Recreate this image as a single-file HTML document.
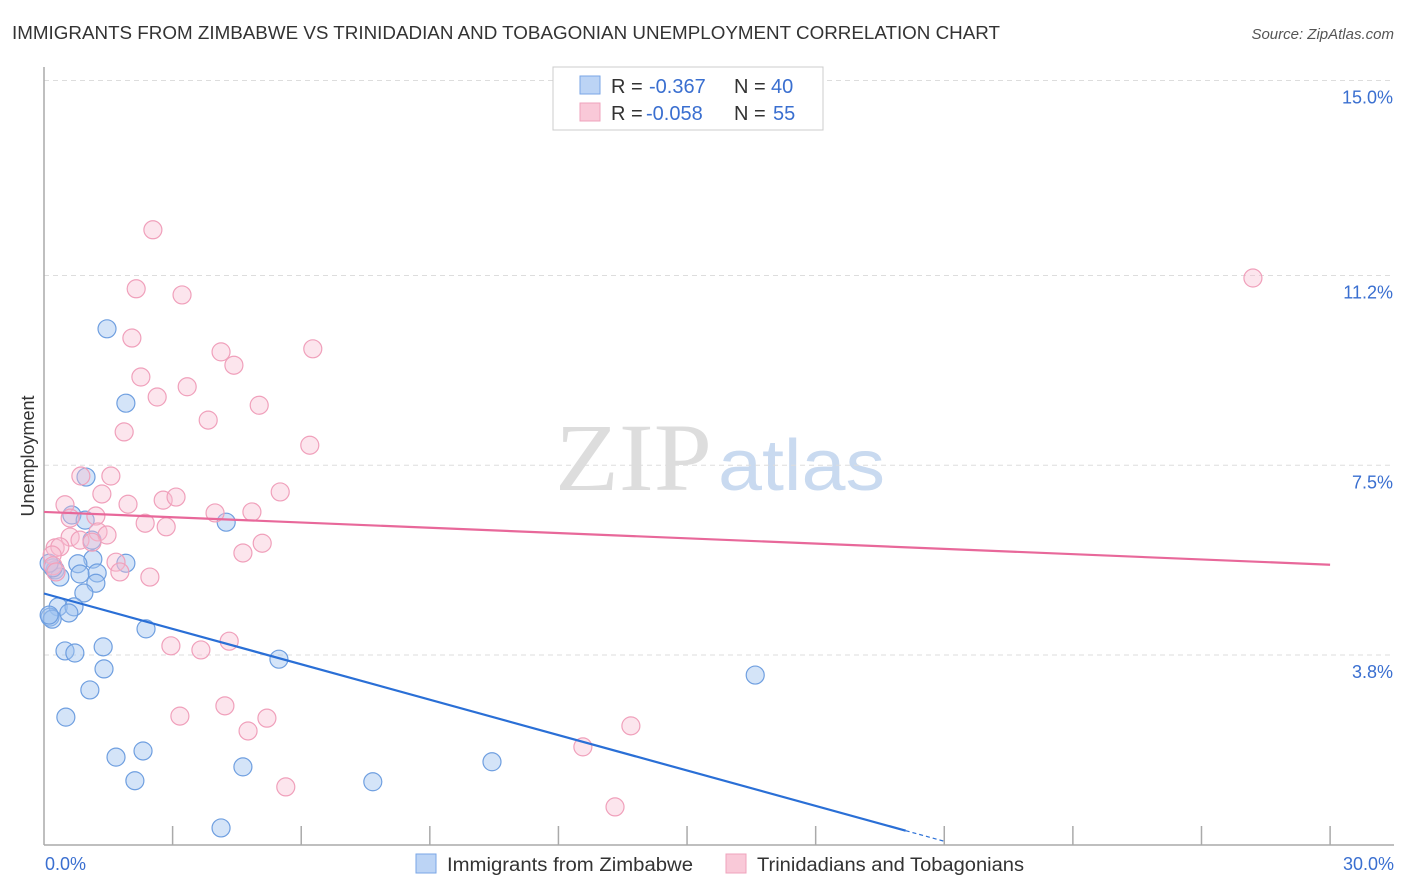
<!DOCTYPE html>
<html><head><meta charset="utf-8"><style>
body{margin:0;background:#fff;font-family:"Liberation Sans",sans-serif}
svg{display:block}
</style></head><body>
<svg id="chart" width="1406" height="892">
<text x="12" y="39" font-size="18" fill="#333" textLength="988" lengthAdjust="spacingAndGlyphs">IMMIGRANTS FROM ZIMBABWE VS TRINIDADIAN AND TOBAGONIAN UNEMPLOYMENT CORRELATION CHART</text>
<text x="1394" y="39" font-size="15" fill="#555" text-anchor="end" font-style="italic">Source: ZipAtlas.com</text>
<text x="555" y="490" font-size="96" fill="#ddd" textLength="157" lengthAdjust="spacingAndGlyphs" font-family="Liberation Serif,serif">ZIP</text>
<text x="718" y="490" font-size="72" fill="#c9daf0" textLength="167" lengthAdjust="spacingAndGlyphs">atlas</text>
<g id="grid"></g>
<g id="pts"></g>
<g id="lines"></g>
<text transform="translate(34,456) rotate(-90)" font-size="18" fill="#333" text-anchor="middle">Unemployment</text>
<text x="45" y="870" font-size="18" fill="#3a6fd0">0.0%</text>
<text x="1394" y="870" font-size="18" fill="#3a6fd0" text-anchor="end">30.0%</text>
<g>
<rect x="553" y="67" width="270" height="63" fill="#fff" stroke="#ccc"/>
<rect x="580" y="76" width="20" height="18" fill="#bcd4f5" stroke="#7aa6e6"/>
<rect x="580" y="103" width="20" height="18" fill="#f9c9d8" stroke="#efa3bc"/>
<text x="611" y="93" font-size="20" fill="#333">R =</text><text x="649" y="93" font-size="20" fill="#3a6fd0">-0.367</text>
<text x="734" y="93" font-size="20" fill="#333">N =</text><text x="771" y="93" font-size="20" fill="#3a6fd0">40</text>
<text x="611" y="120" font-size="20" fill="#333">R =</text><text x="646" y="120" font-size="20" fill="#3a6fd0">-0.058</text>
<text x="734" y="120" font-size="20" fill="#333">N =</text><text x="773" y="120" font-size="20" fill="#3a6fd0">55</text>
</g>
<g>
<rect x="416" y="854" width="20" height="19" fill="#bcd4f5" stroke="#7aa6e6"/>
<text x="447" y="871" font-size="19" fill="#333" textLength="246" lengthAdjust="spacingAndGlyphs">Immigrants from Zimbabwe</text>
<rect x="726" y="854" width="20" height="19" fill="#f9c9d8" stroke="#efa3bc"/>
<text x="757" y="871" font-size="19" fill="#333" textLength="267" lengthAdjust="spacingAndGlyphs">Trinidadians and Tobagonians</text>
</g>
</svg>
<script>
const yTicks=[3.8,7.5,11.2,15.0];
const yTickLabels=["3.8%","7.5%","11.2%","15.0%"];
const xTicks=[0,3,6,9,12,15,18,21,24,27,30];
const blueX=[1.47,1.91,0.98,4.25,0.65,0.96,1.12,1.91,1.14,0.79,1.24,0.84,0.26,0.37,1.21,0.93,0.33,0.70,0.58,0.14,0.19,0.12,0.49,0.72,1.38,2.38,5.48,1.40,1.07,0.51,1.68,2.31,2.12,4.64,7.67,10.45,16.59,4.13,0.21,0.12];
const blueY=[10.16,8.71,7.27,6.39,6.53,6.43,6.04,5.59,5.67,5.58,5.40,5.38,5.46,5.32,5.20,5.01,4.74,4.74,4.62,4.54,4.50,4.58,3.88,3.84,3.96,4.31,3.72,3.53,3.12,2.59,1.81,1.93,1.35,1.62,1.33,1.72,3.41,0.43,5.50,5.59];
const pinkX=[2.54,2.15,3.22,2.05,4.13,6.27,4.43,2.26,3.34,2.64,5.02,3.83,1.87,6.20,0.86,1.56,5.51,1.35,0.49,2.78,3.08,1.96,3.99,4.85,0.61,1.21,2.36,2.85,1.26,1.47,0.61,0.84,1.12,5.09,4.64,1.68,1.77,2.47,0.26,0.37,0.19,0.21,0.28,2.96,3.66,4.32,3.17,4.22,5.20,4.76,5.64,12.57,13.69,13.32,28.20];
const pinkY=[12.09,10.94,10.82,9.98,9.71,9.77,9.45,9.22,9.03,8.83,8.67,8.38,8.15,7.89,7.29,7.29,6.98,6.94,6.73,6.82,6.88,6.74,6.57,6.59,6.47,6.51,6.37,6.30,6.20,6.14,6.10,6.04,6.00,5.98,5.79,5.61,5.42,5.32,5.89,5.91,5.75,5.54,5.42,3.98,3.90,4.07,2.61,2.81,2.57,2.32,1.23,2.01,2.42,0.84,11.15];
const blueTrend=[5.0,-0.230];
const pinkTrend=[6.59,-0.0343];
const NS="http://www.w3.org/2000/svg";
const X=v=>44+v*42.87, Y=v=>850-v*51.3;
function mk(tag,attrs,parent){const e=document.createElementNS(NS,tag);for(const k in attrs)e.setAttribute(k,attrs[k]);parent.appendChild(e);return e;}
const grid=document.getElementById('grid');
yTicks.forEach((t,i)=>{
 const l=mk('line',{x1:44,x2:1394,y1:Y(t),y2:Y(t),stroke:'#ddd','stroke-dasharray':'5,4'},grid);
 
 
 const tx=mk('text',{x:1393,y:Y(t)+23,'font-size':18,fill:'#3a6fd0','text-anchor':'end'},grid);
 tx.textContent=yTickLabels[i];
 
 
});
const ax=mk('line',{x1:44,x2:44,y1:67,y2:845,stroke:'#aaa','stroke-width':1.5},grid);


const bx=mk('line',{x1:44,x2:1394,y1:845,y2:845,stroke:'#aaa','stroke-width':1.5},grid);


xTicks.forEach(t=>{if(t===0)return;
 const l=mk('line',{x1:X(t),x2:X(t),y1:826,y2:845,stroke:'#aaa','stroke-width':1.5},grid);
 
 
});
const pts=document.getElementById('pts');
blueX.forEach((v,i)=>{
 const c=mk('circle',{cx:X(v),cy:Y(blueY[i]),r:9,fill:'rgba(160,196,240,0.45)',stroke:'#6f9fe0','stroke-width':1.2},pts);
 
 
});
pinkX.forEach((v,i)=>{
 const c=mk('circle',{cx:X(v),cy:Y(pinkY[i]),r:9,fill:'rgba(248,190,210,0.4)',stroke:'#f0a0bb','stroke-width':1.2},pts);
 
 
});
const lines=document.getElementById('lines');
const xEnd=20.1;
const bl=mk('line',{x1:X(0),y1:Y(blueTrend[0]),x2:X(xEnd),y2:Y(blueTrend[0]+blueTrend[1]*xEnd),stroke:'#2a6fd6','stroke-width':2.2},lines);


const bd=mk('line',{x1:X(xEnd),y1:Y(blueTrend[0]+blueTrend[1]*xEnd),x2:X(21),y2:Y(blueTrend[0]+blueTrend[1]*21),stroke:'#2a6fd6','stroke-width':1.2,'stroke-dasharray':'4,3'},lines);


const pl=mk('line',{x1:X(0),y1:Y(pinkTrend[0]),x2:X(30),y2:Y(pinkTrend[0]+pinkTrend[1]*30),stroke:'#e8689a','stroke-width':2.2},lines);


</script>
</body></html>
